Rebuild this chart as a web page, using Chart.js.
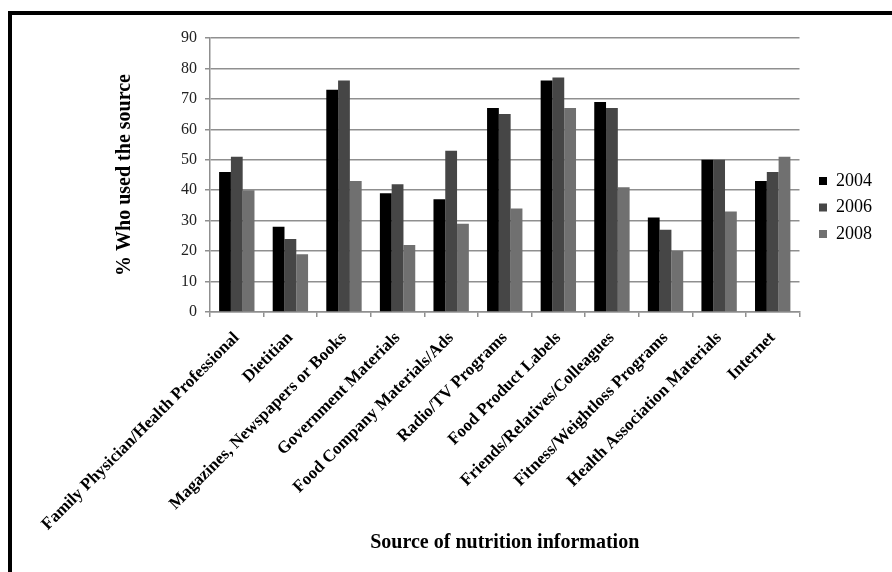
<!DOCTYPE html>
<html>
<head>
<meta charset="utf-8">
<script src="https://cdn.jsdelivr.net/npm/chart.js@4"></script>
<style>
  html, body { margin: 0; padding: 0; background: #fff; }
  #wrap { position: relative; width: 892px; height: 572px; overflow: hidden; }
  #frame { position: absolute; left: 8px; top: 11px; right: -20px; bottom: -20px;
           border-top: 4px solid #000; border-left: 4px solid #000; }
  #c { position: absolute; left: 0; top: 0; }
</style>
</head>
<body>
<div id="wrap">
  <div id="frame"></div>
  <canvas id="c" width="892" height="572"></canvas>
</div>
<script>
// Sources of nutrition information and share of respondents using each
const categories = [
  'Family Physician/Health Professional',
  'Dietitian',
  'Magazines, Newspapers or Books',
  'Government Materials',
  'Food Company Materials/Ads',
  'Radio/TV Programs',
  'Food Product Labels',
  'Friends/Relatives/Colleagues',
  'Fitness/Weightloss Programs',
  'Health Association Materials',
  'Internet'
];
const years = ['2004', '2006', '2008'];
const values2004 = [46, 28, 73, 39, 37, 67, 76, 69, 31, 50, 43];
const values2006 = [51, 24, 76, 42, 53, 65, 77, 67, 27, 50, 46];
const values2008 = [40, 19, 43, 22, 29, 34, 67, 41, 20, 33, 51];
const yTickValues = [0, 10, 20, 30, 40, 50, 60, 70, 80, 90];

const yearColors = ['#000000', '#464646', '#707070'];
const serif = "'Liberation Serif', 'Times New Roman', serif";
const gridColor = '#8f8f8f';

// Place the legend box to the right of the plot, beside the middle bars
const legendPlacer = {
  id: 'legendPlacer',
  afterLayout(chart) {
    const lg = chart.legend;
    if (!lg) return;
    const w = lg.width, h = lg.height;
    lg.left = 810.5;
    lg.right = lg.left + w;
    lg.top = 163.5;
    lg.bottom = lg.top + h;
  }
};

new Chart(document.getElementById('c'), {
  type: 'bar',
  data: {
    labels: categories,
    datasets: [
      { label: years[0], data: values2004, backgroundColor: yearColors[0] },
      { label: years[1], data: values2006, backgroundColor: yearColors[1] },
      { label: years[2], data: values2008, backgroundColor: yearColors[2] }
    ]
  },
  options: {
    responsive: false,
    animation: false,
    events: [],
    layout: { padding: { left: 110, right: 21, top: 38, bottom: 15 } },
    datasets: { bar: { categoryPercentage: 0.66, barPercentage: 1.0 } },
    plugins: {
      tooltip: { enabled: false },
      legend: {
        position: 'right',
        align: 'start',
        labels: {
          boxWidth: 8,
          boxHeight: 8,
          padding: 8.5,
          color: '#000',
          font: { family: serif, size: 18, lineHeight: 1.2 }
        }
      }
    },
    scales: {
      x: {
        grid: { display: true, drawOnChartArea: false, drawTicks: true, tickLength: 5,
                color: gridColor, lineWidth: 1.5, offset: true },
        border: { display: true, color: gridColor, width: 1.5 },
        ticks: {
          autoSkip: false, maxRotation: 45, minRotation: 45, padding: 11,
          color: '#000',
          font: { family: serif, size: 17, weight: 'bold' }
        },
        title: {
          display: true,
          text: 'Source of nutrition information',
          color: '#000',
          padding: { top: 0, bottom: 2 },
          font: { family: serif, size: 20, weight: 'bold', lineHeight: 1.2 }
        },
        afterFit(scale) { scale.height = 245; }
      },
      y: {
        min: 0,
        max: 90,
        afterBuildTicks(scale) { scale.ticks = yTickValues.map(v => ({ value: v })); },
        grid: { color: gridColor, lineWidth: 1.5, drawTicks: true, tickLength: 5 },
        border: { display: true, color: gridColor, width: 1.5 },
        ticks: {
          padding: 8,
          color: '#222',
          font: { family: serif, size: 16 }
        },
        title: {
          display: true,
          text: '% Who used the source',
          color: '#000',
          padding: { top: 3, bottom: 0 },
          font: { family: serif, size: 20, weight: 'bold', lineHeight: 1.2 }
        },
        afterFit(scale) { scale.width = 100; }
      }
    }
  },
  plugins: [legendPlacer]
});
</script>
</body>
</html>
